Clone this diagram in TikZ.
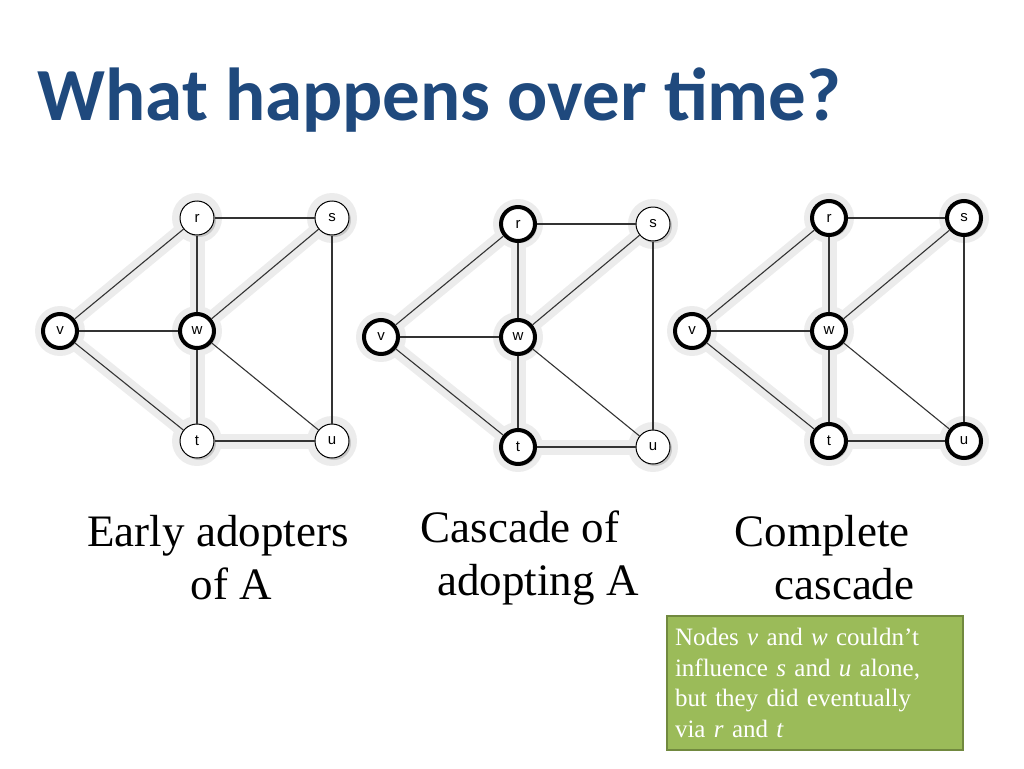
\documentclass[tikz,border=0pt]{standalone}
\usepackage{fontspec}
\newfontfamily\titlefont{Carlito}
\newfontfamily\boxfont{Liberation Serif}
\newfontfamily\labfont{Liberation Sans}
\usetikzlibrary{shadows}
\definecolor{titleblue}{RGB}{31,73,125}
\definecolor{boxgreen}{RGB}{155,187,89}
\definecolor{boxedge}{RGB}{113,137,63}
\tikzset{
  gn/.style={circle,draw=black,fill=white,minimum size=34pt,inner sep=0pt,line width=1pt,font=\labfont\fontsize{15}{15}\selectfont,drop shadow={shadow xshift=2pt,shadow yshift=-2pt,opacity=0.35}},
  thk/.style={line width=4pt},
  halo/.style={line width=15pt,draw=gray!15,line cap=round},
  edge/.style={line width=1.1pt,draw=black!80},
  captext/.style={font=\boxfont\fontsize{45}{53}\selectfont,align=center}
}
\newcommand\mygraph[8]{%
  \begin{scope}[shift={(#2)}]
    \coordinate (#1r) at (0,0);\coordinate (#1s) at (135,0);
    \coordinate (#1v) at (-137,113);\coordinate (#1w) at (0,113);
    \coordinate (#1t) at (0,223);\coordinate (#1u) at (135,223);
    \foreach \a in {r,s,v,w,t,u}{\fill[gray!15] (#1\a) circle (25);}
    \foreach \a/\b in {r/v,r/w,v/t,w/s,w/t,t/u}{\draw[halo] (#1\a) -- (#1\b);}
    \node[gn,#3] (#1R) at (#1r) {r};
    \node[gn,#4] (#1S) at (#1s) {s};
    \node[gn,#5] (#1V) at (#1v) {v};
    \node[gn,#6] (#1W) at (#1w) {w};
    \node[gn,#7] (#1T) at (#1t) {t};
    \node[gn,#8] (#1U) at (#1u) {u};
    \foreach \a/\b in {R/S,R/V,R/W,V/W,V/T,W/S,W/T,W/U,S/U,T/U}{\draw[edge] (#1\a) -- (#1\b);}
  \end{scope}}
\begin{document}
\begin{tikzpicture}[x=1pt,y=-1pt]
\useasboundingbox (0,0) rectangle (1024,768);
\node[anchor=west,text=titleblue,font=\titlefont\bfseries\fontsize{75}{75}\selectfont] (title) at (34,100) {What happens over time?};
\mygraph{a}{197,218}{}{}{thk}{thk}{}{}
\mygraph{b}{518,224}{thk}{}{thk}{thk}{thk}{}
\mygraph{c}{829,218}{thk}{thk}{thk}{thk}{thk}{thk}
\node[captext] (c1) at (218,558) {Early adopters\\\hspace*{0.6em}of A};
\node[captext] (c2) at (520,558) {Cascade of\\\hspace*{0.8em}adopting A};
\node[captext] (c3) at (822,558) {Complete\\\hspace*{1.0em}cascade};
\node[draw=boxedge,line width=2pt,fill=boxgreen,text=white,anchor=north west,minimum width=290pt,minimum height=134pt,text width=280pt,inner sep=8pt,align=left,font=\boxfont\fontsize{25}{30.5}\selectfont] (note) at (666,615) {Nodes \textit{v} and \textit{w} couldn’t\\influence \textit{s} and \textit{u} alone,\\but they did eventually\\via \textit{r} and \textit{t}};
\end{tikzpicture}
\end{document}
